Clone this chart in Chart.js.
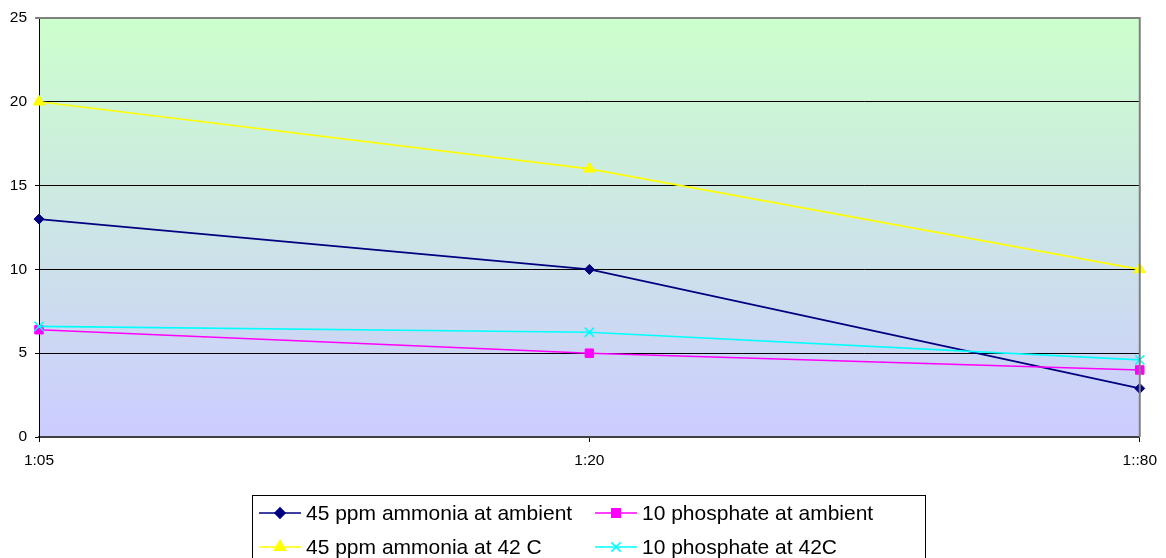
<!DOCTYPE html>
<html>
<head>
<meta charset="utf-8">
<script src="https://cdn.jsdelivr.net/npm/chart.js@4/dist/chart.umd.min.js"></script>
<style>
  html, body { margin: 0; padding: 0; background: #ffffff; }
  #wrap { width: 1166px; height: 558px; position: relative; }
</style>
</head>
<body>
<div id="wrap"><canvas id="c" width="1166" height="558"></canvas></div>
<script>
// Dilution ratios on the x axis
const categories = ['1:05', '1:20', '1::80'];

// Measured values per series
const ammoniaAmbient   = [13, 10, 2.9];
const phosphateAmbient = [6.4, 5, 4];
const ammonia42C       = [20, 16, 10];
const phosphate42C     = [6.6, 6.25, 4.6];

const seriesNames = [
  '45 ppm ammonia at ambient',
  '10 phosphate at ambient',
  '45 ppm ammonia at 42 C',
  '10 phosphate at 42C'
];

const yTicks = [0, 5, 10, 15, 20, 25];

const FONT = '"Liberation Sans", Arial, Helvetica, sans-serif';

// Plot background: green at the top fading to lavender at the bottom
const plotBackground = {
  id: 'plotBackground',
  beforeDraw(chart) {
    const { ctx, chartArea: a } = chart;
    const g = ctx.createLinearGradient(0, a.top, 0, a.bottom);
    g.addColorStop(0, '#ccffcc');
    g.addColorStop(1, '#ccccff');
    ctx.save();
    ctx.fillStyle = g;
    ctx.fillRect(a.left, a.top, a.right - a.left, a.bottom - a.top);
    ctx.restore();
  },
  afterDraw(chart) {
    // grey frame on the top and right of the plot
    const { ctx, chartArea: a } = chart;
    ctx.save();
    ctx.strokeStyle = '#808080';
    ctx.lineWidth = 2;
    ctx.beginPath();
    ctx.moveTo(a.left, a.top);
    ctx.lineTo(a.right, a.top);
    ctx.lineTo(a.right, a.bottom);
    ctx.stroke();
    ctx.restore();
  }
};

// Boxed legend below the plot, two entries per row
const boxLegend = {
  id: 'boxLegend',
  afterDraw(chart) {
    const { ctx } = chart;
    const box = { x: 252.5, y: 495.5, w: 673, h: 80 };
    ctx.save();
    ctx.strokeStyle = '#000000';
    ctx.lineWidth = 1;
    ctx.strokeRect(box.x, box.y, box.w, box.h);
    const cols = [259, 595];
    const rows = [513, 547];
    ctx.font = '21px ' + FONT;
    ctx.textBaseline = 'middle';
    ctx.textAlign = 'left';
    chart.data.datasets.forEach((ds, i) => {
      const x0 = cols[i % 2];
      const y = rows[Math.floor(i / 2)];
      ctx.strokeStyle = ds.borderColor;
      ctx.lineWidth = ds.borderWidth;
      ctx.beginPath();
      ctx.moveTo(x0, y);
      ctx.lineTo(x0 + 42, y);
      ctx.stroke();
      ctx.fillStyle = ds.pointBackgroundColor;
      ctx.strokeStyle = ds.pointBorderColor;
      Chart.helpers.drawPoint(ctx, {
        pointStyle: ds.pointStyle,
        radius: ds.pointRadius,
        rotation: 0,
        borderWidth: ds.pointBorderWidth
      }, x0 + 21, y);
      ctx.fillStyle = '#000000';
      ctx.fillText(ds.label, x0 + 47, y + 1);
    });
    ctx.restore();
  }
};

function series(label, data, color, style, radius, order) {
  return {
    label, data, order,
    borderColor: color,
    backgroundColor: color,
    borderWidth: 1.6,
    pointStyle: style,
    pointRadius: radius,
    pointHoverRadius: radius,
    pointBackgroundColor: color,
    pointBorderColor: color,
    pointBorderWidth: style === 'crossRot' ? 1.6 : 1,
    tension: 0,
    fill: false
  };
}

new Chart(document.getElementById('c'), {
  type: 'line',
  data: {
    labels: categories,
    datasets: [
      series(seriesNames[0], ammoniaAmbient, '#000080', 'rectRot', 5, 4),
      series(seriesNames[1], phosphateAmbient, '#ff00ff', 'rect', 6, 3),
      series(seriesNames[2], ammonia42C, '#ffff00', 'triangle', 6.5, 2),
      series(seriesNames[3], phosphate42C, '#00ffff', 'crossRot', 6.5, 1)
    ]
  },
  options: {
    responsive: false,
    animation: false,
    events: [],
    layout: { padding: { top: 18, right: 26, left: 0, bottom: 0 } },
    plugins: {
      legend: { display: false },
      tooltip: { enabled: false },
      title: { display: false }
    },
    scales: {
      x: {
        type: 'category',
        offset: false,
        afterFit(scale) { scale.height = 121; },
        grid: {
          drawOnChartArea: false,
          drawTicks: true,
          tickLength: 5,
          color: '#000000',
          lineWidth: 1
        },
        border: { display: true, color: '#404040', width: 2 },
        ticks: {
          color: '#000000',
          padding: 9,
          maxRotation: 0,
          autoSkip: false,
          font: { family: FONT, size: 15.5 }
        }
      },
      y: {
        min: 0,
        max: 25,
        afterFit(scale) { scale.width = 39; },
        afterBuildTicks(scale) { scale.ticks = yTicks.map(v => ({ value: v })); },
        grid: {
          drawTicks: true,
          tickLength: 4,
          color(c) { return c.tick && c.tick.value === 25 ? '#808080' : '#000000'; },
          lineWidth(c) { return c.tick && c.tick.value === 25 ? 2 : 1; }
        },
        border: { display: true, color: '#000000', width: 1 },
        ticks: {
          color: '#000000',
          padding: 8,
          font: { family: FONT, size: 15.5 }
        }
      }
    }
  },
  plugins: [plotBackground, boxLegend]
});
</script>
</body>
</html>
